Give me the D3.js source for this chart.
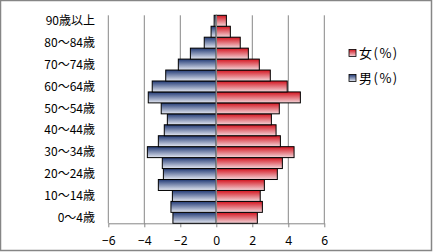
<!DOCTYPE html>
<html>
<head>
<meta charset="utf-8">
<script src="https://d3js.org/d3.v7.min.js"></script>
<style>
body { margin: 0; background: #fff; }
svg { display: block; font-family: "Noto Sans CJK JP", "Noto Sans", sans-serif; }
</style>
</head>
<body>
<div id="chart"><svg></svg></div>
<script>
// age groups, bottom to top
var ages = ["0～4歳","5～9歳","10～14歳","15～19歳","20～24歳","25～29歳","30～34歳","35～39歳",
	"40～44歳","45～49歳","50～54歳","55～59歳","60～64歳","65～69歳","70～74歳","75～79歳",
	"80～84歳","85～89歳","90歳以上"];
var male = [2.41,2.52,2.44,3.22,2.94,3.0,3.83,3.22,2.89,2.72,3.06,3.78,3.56,2.81,2.11,1.44,0.67,0.29,0.12];
var female = [2.28,2.56,2.44,2.67,3.39,3.67,4.32,3.56,3.32,3.06,3.5,4.67,3.94,3.0,2.39,1.78,1.33,0.78,0.56];
var xTicks = [-6,-4,-2,0,2,4,6];
var series = [
	{name: "女(%)", id: "gf"},
	{name: "男(%)", id: "gm"}
];

var W = 433, H = 252;
var svg = d3.select("#chart").select("svg")
	.attr("width", W)
	.attr("height", H);

// outer frame
svg.append("rect")
	.attr("x", 0.5).attr("y", 0.5)
	.attr("width", W - 2).attr("height", H - 2)
	.attr("fill", "#fff")
	.attr("stroke", "#868686")
	.attr("stroke-width", 1.5);

var defs = svg.append("defs");
function grad(id, top, bottom) {
	var g = defs.append("linearGradient").attr("id", id)
		.attr("x1", 0).attr("y1", 0).attr("x2", 0).attr("y2", 1);
	g.append("stop").attr("offset", "0%").attr("stop-color", top);
	g.append("stop").attr("offset", "100%").attr("stop-color", bottom);
}
grad("gm", "#223a75", "#e4e8f2");
grad("gf", "#d4141f", "#f3d6da");

var x = d3.scaleLinear().domain([-6, 6]).range([108.3, 324.3]);
var y = d3.scaleBand().domain(ages).range([223.3, 15.3]).paddingInner(0);

// gridlines
svg.append("g").selectAll("line")
	.data(xTicks.filter(function(d) { return d != 0; }))
	.enter().append("line")
	.attr("x1", function(d) { return x(d); })
	.attr("x2", function(d) { return x(d); })
	.attr("y1", 15.3).attr("y2", 223.3)
	.attr("stroke", "#868686").attr("stroke-width", 1);

// x axis
var xAxis = svg.append("g")
	.attr("transform", "translate(0,223.3)")
	.call(d3.axisBottom(x).tickValues(xTicks).tickSize(4).tickPadding(9).tickSizeOuter(0));
xAxis.select(".domain").attr("stroke", "#868686");
xAxis.selectAll(".tick line").attr("stroke", "#868686");
xAxis.selectAll(".tick text")
	.attr("font-size", 12)
	.attr("fill", "#000")
	.style("font-family", "'Noto Sans', sans-serif");

// bars
var bars = svg.append("g");
bars.selectAll("rect.m")
	.data(male)
	.enter().append("rect").attr("class", "m")
	.attr("x", function(d) { return x(-d); })
	.attr("y", function(d, i) { return y(ages[i]); })
	.attr("width", function(d) { return x(0) - x(-d); })
	.attr("height", y.bandwidth())
	.attr("fill", "url(#gm)")
	.attr("stroke", "#000").attr("stroke-width", 1);
bars.selectAll("rect.f")
	.data(female)
	.enter().append("rect").attr("class", "f")
	.attr("x", x(0))
	.attr("y", function(d, i) { return y(ages[i]); })
	.attr("width", function(d) { return x(d) - x(0); })
	.attr("height", y.bandwidth())
	.attr("fill", "url(#gf)")
	.attr("stroke", "#000").attr("stroke-width", 1);

// zero axis line
svg.append("line")
	.attr("x1", x(0)).attr("x2", x(0))
	.attr("y1", 15.3).attr("y2", 223.3)
	.attr("stroke", "#868686").attr("stroke-width", 1.5);

// category labels, every other one
svg.append("g").selectAll("text")
	.data(ages.filter(function(d, i) { return i % 2 == 0; }))
	.enter().append("text")
	.attr("x", 95)
	.attr("y", function(d) { return y(d) + y.bandwidth() / 2; })
	.attr("dy", "0.35em")
	.attr("text-anchor", "end")
	.attr("font-size", 12)
	.text(function(d) { return d; });

// legend
var leg = svg.append("g").selectAll("g")
	.data(series)
	.enter().append("g")
	.attr("transform", function(d, i) { return "translate(349," + (53 + i * 25) + ")"; });
leg.append("rect")
	.attr("x", 0).attr("y", -3.5)
	.attr("width", 7).attr("height", 7)
	.attr("fill", function(d) { return "url(#" + d.id + ")"; })
	.attr("stroke", "#000").attr("stroke-width", 0.8);
leg.append("text")
	.attr("x", 10).attr("y", 0)
	.attr("dy", "0.35em")
	.attr("font-size", 13)
	.attr("letter-spacing", 1.5)
	.text(function(d) { return d.name; });
</script>
</body>
</html>
